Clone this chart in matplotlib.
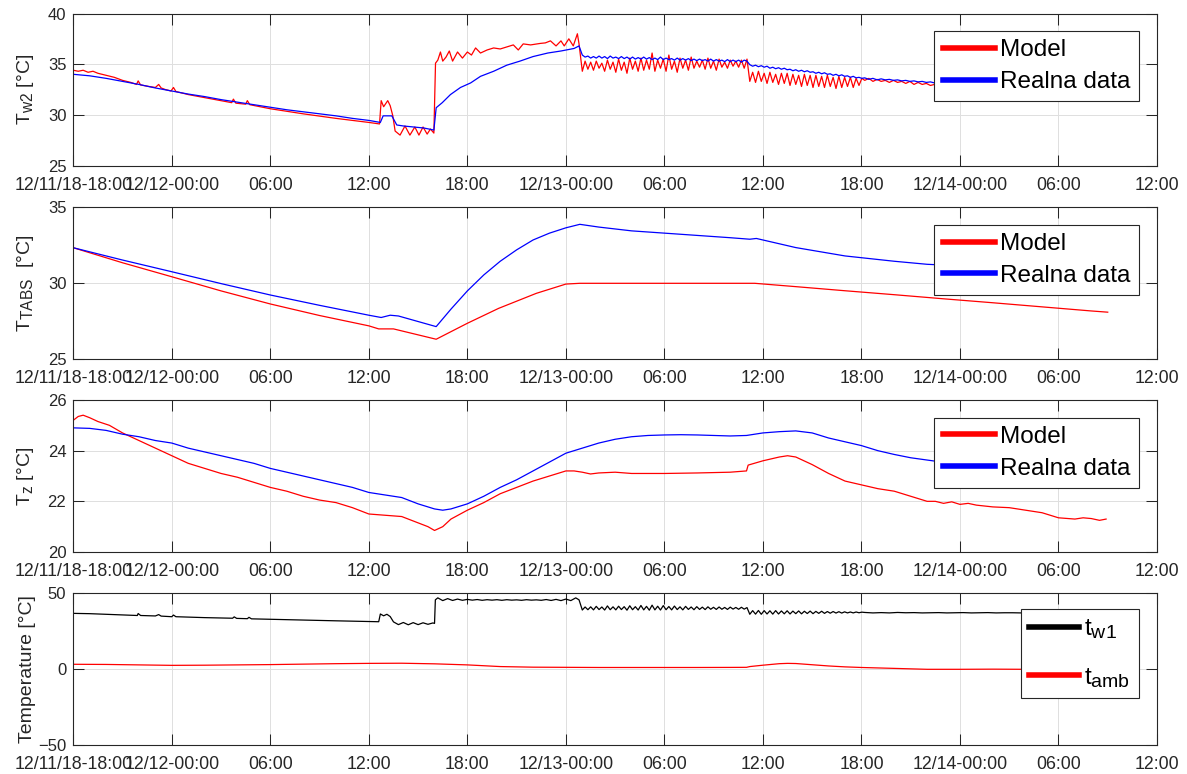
import numpy as np
import matplotlib
matplotlib.use("Agg")
import matplotlib.pyplot as plt
import matplotlib._mathtext as _mt

_mt.SHRINK_FACTOR = 0.8
_mt.FontConstantsBase.subdrop = 0.55

plt.rcParams['font.family'] = ['Liberation Sans', 'DejaVu Sans']
plt.rcParams['mathtext.fontset'] = 'custom'
plt.rcParams['mathtext.rm'] = 'Liberation Sans'
plt.rcParams['mathtext.it'] = 'Liberation Sans:italic'
plt.rcParams['mathtext.bf'] = 'Liberation Sans:bold'

# ---------------- axis / tick data (hours since 12/11/18 18:00) ----------------
tick_hours = [0, 6, 12, 18, 24, 30, 36, 42, 48, 54, 60, 66]
tick_labels = ["12/11/18-18:00", "12/12-00:00", "06:00", "12:00", "18:00",
               "12/13-00:00", "06:00", "12:00", "18:00", "12/14-00:00",
               "06:00", "12:00"]

# ---------------- panel 1: T_w2 ----------------
tw2_model_t1 = [0, 0.3, 0.6, 0.9, 1.2, 1.5, 2.0, 2.5, 3.0, 3.5, 3.85, 3.95, 4.1, 4.6, 5.0, 5.2, 5.35,
                5.6, 5.95, 6.1, 6.25, 7, 8, 9, 9.65, 9.75, 9.9, 10.5, 10.6, 10.75, 12, 14, 16, 18, 18.65]
tw2_model_v1 = [34.4, 34.3, 34.4, 34.2, 34.3, 34.1, 33.9, 33.7, 33.4, 33.2, 33.0, 33.35, 32.95, 32.8, 32.7,
                33.0, 32.65, 32.5, 32.35, 32.7, 32.3, 32.0, 31.7, 31.4, 31.2, 31.55, 31.15, 31.05, 31.4,
                31.0, 30.6, 30.1, 29.65, 29.25, 29.1]
tw2_model_t2 = [18.75, 18.9, 19.15, 19.3, 19.46, 19.6, 19.9, 20.2, 20.5, 20.8, 21.05, 21.3, 21.55, 21.75,
                21.96, 22.06, 22.2, 22.36, 22.5, 22.7, 22.9, 23.1, 23.4, 23.7, 24.0, 24.25, 24.5, 24.8,
                25.2, 25.6, 26.0, 26.4, 26.8, 27.1, 27.4, 27.85, 28.45, 28.75, 29.06, 29.4, 29.7, 29.9,
                30.18, 30.45, 30.7, 30.8]
tw2_model_v2 = [31.4, 30.8, 31.4, 30.9, 29.9, 28.4, 28.0, 28.9, 28.0, 28.8, 28.0, 28.8, 28.1, 28.6,
                28.2, 35.1, 35.4, 36.2, 35.3, 35.7, 36.3, 35.3, 36.2, 35.6, 36.2, 35.9, 36.6, 36.1,
                36.4, 36.6, 36.5, 36.7, 36.9, 36.4, 37.0, 36.9, 37.05, 37.1, 37.3, 36.8, 37.3, 36.8,
                37.5, 36.8, 38.0, 37.0]
# oscillating model section, sampled every 0.17 h from 31.0 h
tw2_model_osc1 = [34.3, 35.3, 34.5, 35.2, 34.4, 35.3, 34.6, 35.1, 34.3, 35.4, 34.5, 35.2, 34.2, 35.5,
                  34.4, 35.2, 34.1, 35.6, 34.5, 35.3, 34.3, 35.6, 34.4, 35.4, 34.5, 36.1, 34.3, 35.4,
                  34.6, 35.5, 34.3, 35.9, 34.5, 35.3, 34.2, 35.6, 34.6, 35.4, 34.4, 35.7, 34.6, 35.3,
                  34.7, 35.4, 34.5, 35.6, 34.6, 35.3, 34.4, 35.5, 34.7, 35.2, 34.6, 35.4, 34.8, 35.3,
                  34.7, 35.4, 34.6, 35.5]
# sampled every 0.175 h from 41.2 h
tw2_model_osc2 = [33.3, 34.2, 33.2, 34.3, 33.3, 34.1, 33.1, 34.2, 33.2, 34.0, 33.0, 34.1, 33.1, 34.1,
                  32.9, 34.0, 33.0, 33.9, 32.8, 34.0, 32.9, 33.9, 32.7, 33.9, 32.8, 33.8, 32.7, 33.9,
                  32.8, 33.7, 32.6, 33.8, 32.7, 33.7, 32.8, 33.7, 32.7, 33.6, 32.9, 33.6]
# sampled every 0.25 h from 48.2 h
tw2_model_osc3 = [33.4, 33.6, 33.3, 33.5, 33.3, 33.4, 33.2, 33.4, 33.2, 33.3, 33.1, 33.3, 33.0, 33.2,
                  33.0, 33.1, 32.9, 33.0, 32.9]
tw2_model_t4 = [54, 56, 58, 60, 63]
tw2_model_v4 = [32.8, 32.7, 32.6, 32.5, 32.4]

tw2_real_t1 = [0, 1, 2, 3, 4, 5, 6, 7, 8, 9, 10, 11, 12, 13, 14, 15, 16, 17, 18, 18.7]
tw2_real_v1 = [34.0, 33.85, 33.6, 33.3, 33.0, 32.65, 32.35, 32.05, 31.8, 31.5, 31.25, 31.0, 30.75,
               30.5, 30.3, 30.1, 29.9, 29.65, 29.45, 29.25]
tw2_real_t2 = [18.87, 19.4, 19.7, 20.1, 20.7, 21.35, 21.96, 22.1, 22.47, 22.97, 23.58, 24.2, 24.8,
               25.6, 26.4, 27.2, 28.0, 28.9, 29.7, 30.5, 30.8]
tw2_real_v2 = [29.9, 29.9, 29.0, 28.9, 28.8, 28.7, 28.5, 30.7, 31.2, 32.0, 32.7, 33.15, 33.8, 34.3,
               34.9, 35.3, 35.75, 36.1, 36.3, 36.55, 36.8]
# sampled every 0.17 h from 31.0 h
tw2_real_osc1 = [35.9, 35.7, 35.8, 35.6, 35.75, 35.6, 35.8, 35.6, 35.75, 35.55, 35.8, 35.6, 35.7, 35.55,
                 35.75, 35.55, 35.7, 35.5, 35.7, 35.5, 35.65, 35.5, 35.7, 35.5, 35.65, 35.45, 35.6,
                 35.45, 35.7, 35.45, 35.6, 35.45, 35.55, 35.4, 35.6, 35.4, 35.55, 35.4, 35.55, 35.35,
                 35.5, 35.35, 35.5, 35.35, 35.45, 35.3, 35.5, 35.3, 35.45, 35.3, 35.4, 35.25, 35.45,
                 35.25, 35.4, 35.25, 35.4, 35.2, 35.4, 35.3]
# sampled every 0.175 h from 41.2 h
tw2_real_osc2 = [34.95, 34.8, 34.9, 34.75, 34.85, 34.7, 34.8, 34.6, 34.7, 34.55, 34.65, 34.5, 34.6,
                 34.45, 34.5, 34.35, 34.45, 34.3, 34.4, 34.25, 34.35, 34.2, 34.25, 34.1, 34.2, 34.05,
                 34.15, 34.0, 34.05, 33.9, 34.0, 33.85, 33.95, 33.8, 33.85, 33.7, 33.8, 33.65, 33.7, 33.6]
# sampled every 0.25 h from 48.2 h
tw2_real_osc3 = [33.65, 33.5, 33.6, 33.45, 33.55, 33.45, 33.5, 33.4, 33.45, 33.35, 33.4, 33.3, 33.35,
                 33.25, 33.3, 33.2, 33.25, 33.15, 33.2]
tw2_real_t4 = [54, 56, 58, 60, 63]
tw2_real_v4 = [33.1, 33.0, 32.9, 32.8, 32.7]

# ---------------- panel 2: T_TABS ----------------
tabs_real_t = [0, 3, 6, 9, 12, 15, 18, 18.75, 19.3, 19.8, 22.1, 23, 24, 25, 26, 27, 28, 29, 30, 30.85,
               32, 34, 36, 38, 40, 41.2, 41.6, 44, 47, 50, 52, 55, 58, 61, 63]
tabs_real_v = [32.34, 31.53, 30.76, 29.98, 29.23, 28.55, 27.9, 27.75, 27.9, 27.85, 27.15, 28.3, 29.5,
               30.55, 31.45, 32.2, 32.85, 33.3, 33.65, 33.88, 33.7, 33.45, 33.3, 33.15, 33.0, 32.9,
               32.95, 32.35, 31.8, 31.45, 31.25, 31.1, 30.95, 30.85, 30.8]
tabs_model_t = [0, 3, 6, 9, 12, 15, 18, 18.6, 19.5, 22.1, 24, 25.9, 28.2, 30, 30.85, 41.5, 44, 47, 50,
                53, 56, 59, 62, 63]
tabs_model_v = [32.34, 31.35, 30.43, 29.5, 28.64, 27.88, 27.2, 27.0, 27.0, 26.32, 27.37, 28.35, 29.34,
                29.95, 30.0, 30.0, 29.78, 29.51, 29.25, 28.98, 28.72, 28.45, 28.18, 28.1]

# ---------------- panel 3: T_z ----------------
tz_model_t = [0, 0.3, 0.6, 1.0, 1.5, 2.2, 3, 4, 5, 6, 7, 8, 9, 10, 11, 12, 13, 14, 15, 16, 17, 18,
              19, 20, 21, 21.6, 22, 22.5, 23, 24, 25, 26, 27, 28, 29, 30, 30.5, 31, 31.5, 32, 33, 34,
              35, 36, 38, 40, 41, 41.1, 42, 43, 43.5, 44, 45, 46, 47, 48, 49, 50, 51, 52, 52.5, 53,
              53.5, 54, 54.5, 55, 56, 57, 58, 59, 59.5, 60, 61, 61.5, 62, 62.5, 62.9]
tz_model_v = [25.2, 25.35, 25.4, 25.3, 25.15, 25.0, 24.7, 24.4, 24.1, 23.8, 23.5, 23.3, 23.1, 22.95,
              22.75, 22.55, 22.4, 22.2, 22.05, 21.95, 21.75, 21.5, 21.45, 21.4, 21.15, 21.0, 20.85,
              21.0, 21.3, 21.65, 21.95, 22.3, 22.55, 22.8, 23.0, 23.2, 23.2, 23.15, 23.08, 23.12,
              23.15, 23.1, 23.1, 23.1, 23.12, 23.15, 23.2, 23.43, 23.6, 23.75, 23.8, 23.75, 23.45,
              23.1, 22.8, 22.65, 22.5, 22.4, 22.2, 22.0, 22.0, 21.92, 21.98, 21.88, 21.92, 21.85,
              21.78, 21.75, 21.65, 21.55, 21.45, 21.35, 21.3, 21.35, 21.32, 21.25, 21.3]
tz_real_t = [0, 1, 2, 3, 4, 5, 6, 7, 8, 9, 10, 11, 12, 13, 14, 15, 16, 17, 18, 19, 20, 21, 22, 22.5,
             23, 24, 25, 26, 27, 28, 29, 30, 31, 32, 33, 34, 35, 36, 37, 38, 39, 40, 41, 42, 43, 44,
             45, 46, 47, 48, 49, 50, 51, 52, 54, 56, 58, 60, 62, 63]
tz_real_v = [24.9, 24.88, 24.8, 24.65, 24.55, 24.4, 24.3, 24.1, 23.95, 23.8, 23.65, 23.5, 23.3, 23.15,
             23.0, 22.85, 22.7, 22.55, 22.35, 22.25, 22.15, 21.9, 21.7, 21.65, 21.7, 21.9, 22.2,
             22.55, 22.85, 23.2, 23.55, 23.9, 24.1, 24.3, 24.45, 24.55, 24.6, 24.62, 24.63, 24.62,
             24.6, 24.58, 24.6, 24.7, 24.75, 24.78, 24.7, 24.5, 24.35, 24.2, 24.0, 23.85, 23.72,
             23.63, 23.45, 23.25, 23.05, 22.85, 22.65, 22.55]

# ---------------- panel 4: t_w1, t_amb ----------------
tw1_t1 = [0, 1, 2, 3, 3.9, 3.95, 4.1, 5, 5.2, 5.35, 6, 6.1, 6.25, 8, 9.7, 9.8, 9.95, 10.6, 10.7,
          10.85, 12, 14, 16, 18.6, 18.7, 18.9, 19.1, 19.3, 19.5, 19.8, 20.1, 20.4, 20.7, 21.0, 21.3,
          21.6, 21.9, 22.0, 22.05, 22.2, 22.5, 22.8, 23.1, 23.4, 23.7, 24.0, 24.3, 24.6, 24.9, 25.2,
          25.5, 25.8, 26.1, 26.4, 26.7, 27.0, 27.3, 27.6, 27.9, 28.2, 28.5, 28.8, 29.1, 29.4, 29.7,
          30.0, 30.3, 30.6, 30.8]
tw1_v1 = [36.6, 36.4, 36.0, 35.6, 35.2, 36.5, 35.2, 34.9, 35.8, 34.8, 34.4, 35.5, 34.4, 33.8, 33.4,
          34.3, 33.3, 33.1, 34.0, 33.0, 32.7, 32.2, 31.7, 31.1, 36.2, 35.0, 36.0, 34.5, 31.0, 29.2,
          30.6, 29.1, 30.5, 29.2, 30.4, 29.4, 30.3, 30.0, 45.5, 46.8, 45.0, 46.3, 45.1, 46.0, 45.2,
          45.8, 45.3, 45.7, 45.2, 45.6, 45.3, 45.6, 45.2, 45.6, 45.3, 45.5, 45.2, 45.6, 45.3, 45.5,
          45.2, 45.7, 45.1, 45.8, 45.0, 46.0, 45.0, 46.8, 45.5]
# sampled every 0.17 h from 31.0 h
tw1_osc1 = [38.8, 40.8, 39.0, 40.9, 38.9, 41.2, 39.1, 40.8, 38.8, 41.5, 39.0, 40.9, 38.9, 41.3, 39.1,
            41.0, 38.7, 41.6, 39.0, 41.0, 38.8, 41.8, 38.9, 41.2, 38.7, 42.0, 38.9, 41.3, 38.8, 41.7,
            39.0, 41.1, 38.9, 41.4, 39.1, 40.9, 38.9, 41.2, 39.2, 40.8, 39.0, 41.0, 39.2, 40.7, 39.1,
            40.9, 39.3, 40.6, 39.2, 40.8, 39.3, 40.5, 39.2, 40.7, 39.4, 40.5, 39.3, 40.6, 39.4, 40.4]
# sampled every 0.175 h from 41.2 h
tw1_osc2 = [36.0, 38.4, 36.1, 38.5, 36.0, 38.4, 36.2, 38.3, 36.1, 38.4, 36.2, 38.2, 36.3, 38.3, 36.2,
            38.1, 36.4, 38.2, 36.3, 38.0, 36.5, 38.1, 36.4, 37.9, 36.6, 38.0, 36.6, 37.8, 36.7, 37.8,
            36.8, 37.7, 36.8, 37.6, 36.9, 37.5, 36.9, 37.5, 37.0, 37.4]
# sampled every 0.5 h from 48.2 h
tw1_osc3 = [37.2, 36.9, 37.1, 36.9, 37.2, 37.0, 37.1, 36.9, 37.0, 37.1, 36.9, 37.0, 37.1, 36.9, 37.0,
            37.1, 36.9, 37.0, 37.0, 36.9, 37.0, 36.9, 37.0, 36.9, 37.0, 36.9, 36.9, 36.8, 36.9, 36.8]

tamb_t = [0, 2, 4, 6, 8, 10, 12, 14, 16, 18, 20, 21, 22, 24, 26, 28, 30, 32, 34, 36, 38, 40, 41, 41.2,
          42, 43, 43.5, 44, 45, 46, 47, 48, 50, 52, 54, 56, 58, 60, 63]
tamb_v = [3.1, 3.0, 2.7, 2.4, 2.5, 2.7, 2.9, 3.2, 3.5, 3.7, 3.8, 3.6, 3.4, 2.7, 1.6, 1.2, 1.1, 1.0,
          1.0, 1.0, 1.0, 1.05, 1.1, 1.6, 2.5, 3.5, 3.7, 3.6, 2.8, 2.0, 1.4, 1.0, 0.4, -0.2, -0.2,
          -0.1, -0.2, -0.2, -0.1]


def grid_times(start, step, vals):
    return [start + step * i for i in range(len(vals))]


def join(*parts):
    t, v = [], []
    for pt, pv in parts:
        t += list(pt)
        v += list(pv)
    return np.array(t), np.array(v)


tw2_model = join((tw2_model_t1, tw2_model_v1), (tw2_model_t2, tw2_model_v2),
                 (grid_times(31.0, 0.17, tw2_model_osc1), tw2_model_osc1),
                 (grid_times(41.2, 0.175, tw2_model_osc2), tw2_model_osc2),
                 (grid_times(48.2, 0.25, tw2_model_osc3), tw2_model_osc3),
                 (tw2_model_t4, tw2_model_v4))
tw2_real = join((tw2_real_t1, tw2_real_v1), (tw2_real_t2, tw2_real_v2),
                (grid_times(31.0, 0.17, tw2_real_osc1), tw2_real_osc1),
                (grid_times(41.2, 0.175, tw2_real_osc2), tw2_real_osc2),
                (grid_times(48.2, 0.25, tw2_real_osc3), tw2_real_osc3),
                (tw2_real_t4, tw2_real_v4))
tw1 = join((tw1_t1, tw1_v1),
           (grid_times(31.0, 0.17, tw1_osc1), tw1_osc1),
           (grid_times(41.2, 0.175, tw1_osc2), tw1_osc2),
           (grid_times(48.2, 0.5, tw1_osc3), tw1_osc3))

# ---------------- figure ----------------
W, H = 1187, 774
fig = plt.figure(figsize=(W / 100, H / 100), dpi=100)
AX_C = '#262626'
left_px, right_px = 73.3, 1157.0
tops_px = [13.5, 207.3, 400.0, 593.0]
h_px = 152.0

axes = []
for tp in tops_px:
    ax = fig.add_axes([left_px / W, 1 - (tp + h_px) / H, (right_px - left_px) / W, h_px / H])
    axes.append(ax)

LW = 0.9
axes[0].plot(*tw2_model, color='#FF0000', lw=LW, label='Model')
axes[0].plot(*tw2_real, color='#0000FF', lw=LW, label='Realna data')
axes[1].plot(tabs_model_t, tabs_model_v, color='#FF0000', lw=LW, label='Model')
axes[1].plot(tabs_real_t, tabs_real_v, color='#0000FF', lw=LW, label='Realna data')
axes[2].plot(tz_model_t, tz_model_v, color='#FF0000', lw=LW, label='Model')
axes[2].plot(tz_real_t, tz_real_v, color='#0000FF', lw=LW, label='Realna data')
axes[3].plot(*tw1, color='#000000', lw=LW, label=r't$_{\mathrm{w1}}$')
axes[3].plot(tamb_t, tamb_v, color='#FF0000', lw=LW, label=r't$_{\mathrm{amb}}$')

ylims = [(25, 40), (25, 35), (20, 26), (-50, 50)]
yticks = [[25, 30, 35, 40], [25, 30, 35], [20, 22, 24, 26], [-50, 0, 50]]
ylabels = [r'T$_{\mathrm{w2}}$ [°C]', r'T$_{\mathrm{TABS}}$  [°C]', r'T$_{\mathrm{z}}$ [°C]',
           'Temperature [°C]']

for ax, yl, yt, lab in zip(axes, ylims, yticks, ylabels):
    ax.set_xlim(0, 66)
    ax.set_ylim(*yl)
    ax.set_xticks(tick_hours)
    ax.set_xticklabels(tick_labels)
    ax.set_yticks(yt)
    ax.grid(True, color='#DFDFDF', lw=0.7)
    ax.set_axisbelow(True)
    ax.tick_params(direction='in', length=8, width=0.75, colors=AX_C, labelsize=12,
                   top=True, right=True)
    ax.tick_params(axis='x', pad=8, labelsize=12.8)
    ax.tick_params(axis='y', pad=5)
    for sp in ax.spines.values():
        sp.set_color(AX_C)
        sp.set_linewidth(0.8)
    ax.set_ylabel(lab, fontsize=14, color=AX_C)
    ax.yaxis.set_label_coords(-0.034, 0.5)

for i, ax in enumerate(axes):
    if i < 3:
        leg = ax.legend(loc='upper right', bbox_to_anchor=(1 - 18 / 1083.7, 1 - 17.5 / 152),
                        borderaxespad=0, fontsize=17.5, frameon=True, fancybox=False,
                        framealpha=1, edgecolor=AX_C, handlelength=2.15, handletextpad=0.22,
                        borderpad=0.34, labelspacing=0.4)
    else:
        leg = ax.legend(loc='upper right', bbox_to_anchor=(1 - 18 / 1083.7, 1 - 16 / 152),
                        borderaxespad=0, fontsize=17.5, frameon=True, fancybox=False,
                        framealpha=1, edgecolor=AX_C, handlelength=2.05, handletextpad=0.22,
                        borderpad=0.35, labelspacing=1.0)
    leg.get_frame().set_linewidth(0.8)
    for h in leg.legend_handles:
        h.set_linewidth(4)

fig.savefig('out.png', dpi=100)
